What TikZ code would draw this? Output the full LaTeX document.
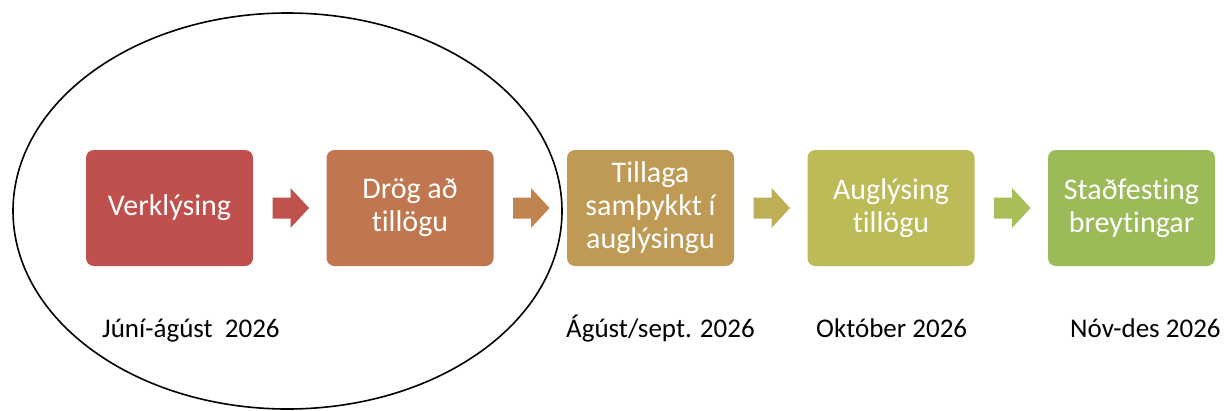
\documentclass[tikz,border=0pt]{standalone}
\usepackage{fontspec}
\setmainfont{Carlito}[Ligatures={NoCommon,NoContextual}]
\usetikzlibrary{calc}
\definecolor{cA}{HTML}{C0504D}
\definecolor{cB}{HTML}{C0774F}
\definecolor{cC}{HTML}{BE9A55}
\definecolor{cD}{HTML}{BDBB58}
\definecolor{cE}{HTML}{9BBB59}
\definecolor{aA}{HTML}{C0524E}
\definecolor{aB}{HTML}{C2844F}
\definecolor{aC}{HTML}{BFAE58}
\definecolor{aD}{HTML}{A9BE59}
\tikzset{
  stepbox/.style={rounded corners=8pt, minimum width=167pt, minimum height=116pt,
    inner sep=0pt, text=white, align=center, font=\fontsize{30}{33}\selectfont},
  datelbl/.style={anchor=base west, inner sep=0pt, font=\fontsize{27}{32}\selectfont, text=black},
}
\newcommand{\blockarrow}[3]{% #1 from node, #2 to node, #3 colour
  \fill[#3] ($(#1.east)!0.5!(#2.west)+(1,0)$) ++(-18.25,-10.5) -- ++(18,0) -- ++(0,-9.5)
    -- ++(18.5,20) -- ++(-18.5,20) -- ++(0,-9.5) -- ++(-18,0) -- cycle;}
\begin{document}
\begin{tikzpicture}[x=1pt,y=-1pt]
\useasboundingbox (0,0) rectangle (1225,410);
\fill[white] (0,0) rectangle (1225,410);
\node[stepbox, fill=cA] (b1) at (169.5,208) {Verklýsing};
\node[stepbox, fill=cB] (b2) at (410,208) {Drög að\\tillögu};
\node[stepbox, fill=cC] (b3) at (650.5,208) {Tillaga\\samþykkt í\\auglýsingu};
\node[stepbox, fill=cD] (b4) at (891,208) {Auglýsing\\tillögu};
\node[stepbox, fill=cE] (b5) at (1131.5,208) {Staðfesting\\breytingar};
\blockarrow{b1}{b2}{aA}
\blockarrow{b2}{b3}{aB}
\blockarrow{b3}{b4}{aC}
\blockarrow{b4}{b5}{aD}
\node[datelbl] (d1) at (102,337) {Júní-ágúst\ \ 2026};
\node[datelbl] (d2) at (566,337) {Ágúst/sept. 2026};
\node[datelbl] (d3) at (816,337) {Október 2026};
\node[datelbl] (d4) at (1070,337) {Nóv-des 2026};
\draw[line width=1.6pt] (287.5,211) ellipse [x radius=274.5pt, y radius=198pt];
\end{tikzpicture}
\end{document}
